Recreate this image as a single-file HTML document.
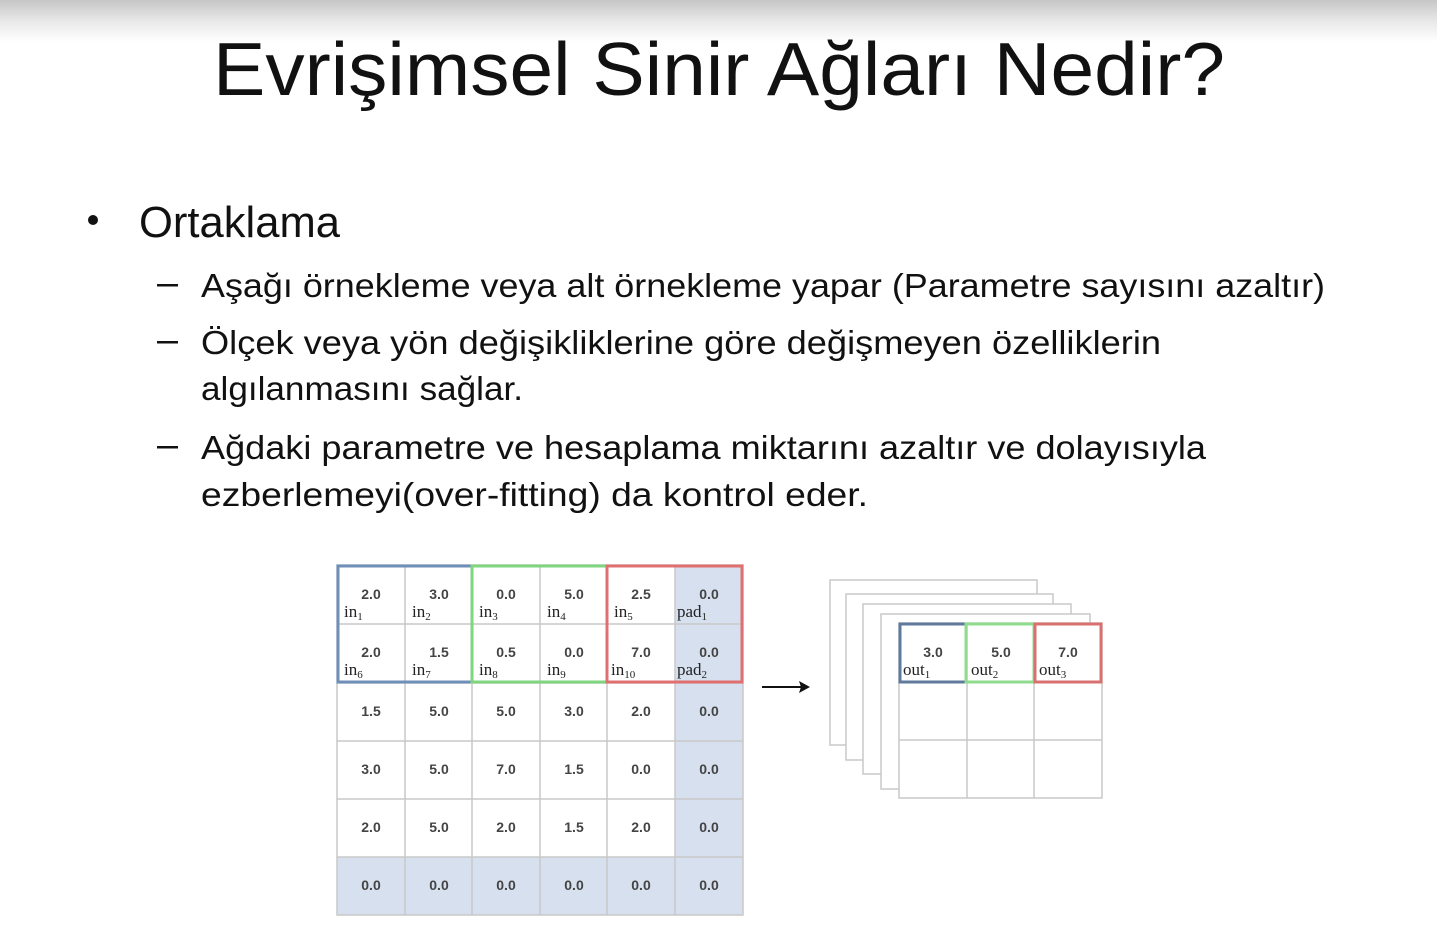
<!DOCTYPE html>
<html><head><meta charset="utf-8"><style>
html,body{margin:0;padding:0;background:#fff;}
svg{display:block;}
</style></head><body>
<svg width="1437" height="931" viewBox="0 0 1437 931" xmlns="http://www.w3.org/2000/svg">
<defs>
<linearGradient id="g" x1="0" y1="0" x2="0" y2="1">
<stop offset="0" stop-color="#c6c6c6"/><stop offset="0.5" stop-color="#e8e8e8"/><stop offset="1" stop-color="#ffffff"/>
</linearGradient>
</defs>
<rect width="1437" height="931" fill="#fff"/>
<rect width="1437" height="42" fill="url(#g)"/>
<g font-family="Liberation Sans, sans-serif" fill="#111">
<text x="213" y="95" font-size="75" textLength="1012" lengthAdjust="spacingAndGlyphs">Evrişimsel Sinir Ağları Nedir?</text>
<circle cx="93" cy="220" r="5" fill="#111"/>
<text x="139" y="237" font-size="44" textLength="201" lengthAdjust="spacingAndGlyphs">Ortaklama</text>
<g font-size="33">
<rect x="157" y="284" width="21" height="2.5"/>
<rect x="157" y="341" width="21" height="2.5"/>
<rect x="157" y="446" width="21" height="2.5"/>
<text x="201" y="297" textLength="1124" lengthAdjust="spacingAndGlyphs">Aşağı örnekleme veya alt örnekleme yapar (Parametre sayısını azaltır)</text>
<text x="201" y="354" textLength="960" lengthAdjust="spacingAndGlyphs">Ölçek veya yön değişikliklerine göre değişmeyen özelliklerin</text>
<text x="201" y="400" textLength="322" lengthAdjust="spacingAndGlyphs">algılanmasını sağlar.</text>
<text x="201" y="459" textLength="1005" lengthAdjust="spacingAndGlyphs">Ağdaki parametre ve hesaplama miktarını azaltır ve dolayısıyla</text>
<text x="201" y="506" textLength="667" lengthAdjust="spacingAndGlyphs">ezberlemeyi(over-fitting) da kontrol eder.</text>
</g>
</g>

<!-- input grid -->
<g>
<rect x="675" y="565" width="68" height="350" fill="#d6e0ef"/>
<rect x="337" y="857" width="406" height="58" fill="#d6e0ef"/>
<g stroke="#c8c8c8" stroke-width="1.5" fill="none">
<line x1="405" y1="565" x2="405" y2="915"/><line x1="472" y1="565" x2="472" y2="915"/>
<line x1="540" y1="565" x2="540" y2="915"/><line x1="607" y1="565" x2="607" y2="915"/>
<line x1="675" y1="565" x2="675" y2="915"/>
<line x1="337" y1="624" x2="743" y2="624"/><line x1="337" y1="683" x2="743" y2="683"/>
<line x1="337" y1="741" x2="743" y2="741"/><line x1="337" y1="799" x2="743" y2="799"/>
<line x1="337" y1="857" x2="743" y2="857"/>
<rect x="337" y="565" width="406" height="350"/>
</g>
<rect x="338" y="566" width="134" height="116" fill="none" stroke="#6f8fb8" stroke-width="3"/>
<rect x="472" y="566" width="135" height="116" fill="none" stroke="#7fd67f" stroke-width="3"/>
<rect x="607" y="566" width="135" height="116" fill="none" stroke="#e07070" stroke-width="3"/>
<g font-family="Liberation Sans, sans-serif" font-size="14" font-weight="bold" fill="#444" text-anchor="middle">
<text x="371" y="599">2.0</text><text x="439" y="599">3.0</text><text x="506" y="599">0.0</text><text x="574" y="599">5.0</text><text x="641" y="599">2.5</text><text x="709" y="599">0.0</text>
<text x="371" y="657">2.0</text><text x="439" y="657">1.5</text><text x="506" y="657">0.5</text><text x="574" y="657">0.0</text><text x="641" y="657">7.0</text><text x="709" y="657">0.0</text>
<text x="371" y="716">1.5</text><text x="439" y="716">5.0</text><text x="506" y="716">5.0</text><text x="574" y="716">3.0</text><text x="641" y="716">2.0</text><text x="709" y="716">0.0</text>
<text x="371" y="774">3.0</text><text x="439" y="774">5.0</text><text x="506" y="774">7.0</text><text x="574" y="774">1.5</text><text x="641" y="774">0.0</text><text x="709" y="774">0.0</text>
<text x="371" y="832">2.0</text><text x="439" y="832">5.0</text><text x="506" y="832">2.0</text><text x="574" y="832">1.5</text><text x="641" y="832">2.0</text><text x="709" y="832">0.0</text>
<text x="371" y="890">0.0</text><text x="439" y="890">0.0</text><text x="506" y="890">0.0</text><text x="574" y="890">0.0</text><text x="641" y="890">0.0</text><text x="709" y="890">0.0</text>
</g>
<g font-family="Liberation Serif, serif" font-size="17" fill="#222">
<text x="344" y="617">in<tspan font-size="11" dy="3">1</tspan></text>
<text x="412" y="617">in<tspan font-size="11" dy="3">2</tspan></text>
<text x="479" y="617">in<tspan font-size="11" dy="3">3</tspan></text>
<text x="547" y="617">in<tspan font-size="11" dy="3">4</tspan></text>
<text x="614" y="617">in<tspan font-size="11" dy="3">5</tspan></text>
<text x="677" y="617">pad<tspan font-size="11" dy="3">1</tspan></text>
<text x="344" y="675">in<tspan font-size="11" dy="3">6</tspan></text>
<text x="412" y="675">in<tspan font-size="11" dy="3">7</tspan></text>
<text x="479" y="675">in<tspan font-size="11" dy="3">8</tspan></text>
<text x="547" y="675">in<tspan font-size="11" dy="3">9</tspan></text>
<text x="611" y="675">in<tspan font-size="11" dy="3">10</tspan></text>
<text x="677" y="675">pad<tspan font-size="11" dy="3">2</tspan></text>
</g>
</g>

<!-- arrow -->
<line x1="762" y1="687" x2="804" y2="687" stroke="#111" stroke-width="2"/>
<path d="M810 687 L799 681 L801 687 L799 693 Z" fill="#111"/>

<!-- output stack -->
<g stroke="#c8c8c8" stroke-width="1.5" fill="#fff">
<rect x="830" y="580" width="207" height="165"/>
<rect x="846" y="594" width="207" height="166"/>
<rect x="863" y="604" width="208" height="170"/>
<rect x="881" y="614" width="209" height="175"/>
<rect x="899" y="623" width="203" height="175"/>
<line x1="967" y1="623" x2="967" y2="798"/><line x1="1034" y1="623" x2="1034" y2="798"/>
<line x1="899" y1="682" x2="1102" y2="682"/><line x1="899" y1="740" x2="1102" y2="740"/>
</g>
<rect x="900" y="624" width="66" height="58" fill="none" stroke="#5f7a9c" stroke-width="3"/>
<rect x="966" y="624" width="68" height="58" fill="none" stroke="#8fdc8f" stroke-width="3"/>
<rect x="1035" y="624" width="66" height="58" fill="none" stroke="#d97070" stroke-width="3"/>
<g font-family="Liberation Sans, sans-serif" font-size="14" font-weight="bold" fill="#444" text-anchor="middle">
<text x="933" y="657">3.0</text><text x="1001" y="657">5.0</text><text x="1068" y="657">7.0</text>
</g>
<g font-family="Liberation Serif, serif" font-size="17" fill="#222">
<text x="903" y="675">out<tspan font-size="11" dy="3">1</tspan></text>
<text x="971" y="675">out<tspan font-size="11" dy="3">2</tspan></text>
<text x="1039" y="675">out<tspan font-size="11" dy="3">3</tspan></text>
</g>
</svg>
</body></html>
